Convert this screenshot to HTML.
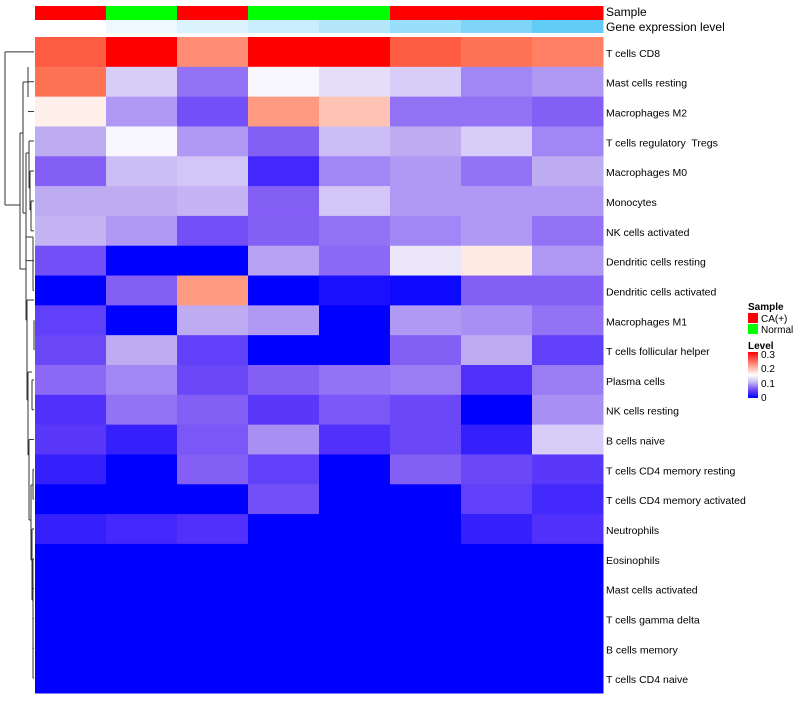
<!DOCTYPE html>
<html><head><meta charset="utf-8"><style>
body{margin:0;background:#fff;font-family:"Liberation Sans",sans-serif}
svg text{font-family:"Liberation Sans",sans-serif;white-space:pre}
</style></head><body>
<svg id="chart" width="800" height="700">
<g id="dend" stroke="#333" stroke-width="1" fill="none"></g>
<g id="cells"></g>
<g id="annot"></g>
<g id="labels"></g>
<text x="606" y="16" font-size="12">Sample</text>
<text x="606" y="31" font-size="12">Gene expression level</text>
<g>
<text x="748" y="310" font-size="10" font-weight="bold">Sample</text>
<rect x="748" y="313" width="10" height="10" fill="#ff0000"/>
<text x="761" y="322" font-size="10">CA(+)</text>
<rect x="748" y="324" width="10" height="10" fill="#00ff00"/>
<text x="761" y="333" font-size="10">Normal</text>
<text x="748" y="349" font-size="10" font-weight="bold">Level</text>
<defs><linearGradient id="lg" x1="0" y1="1" x2="0" y2="0">
<stop offset="0" stop-color="#0000ff"/><stop offset="0.2" stop-color="#7a55f5"/><stop offset="0.35" stop-color="#c8bdf2"/><stop offset="0.5" stop-color="#ffffff"/><stop offset="0.7" stop-color="#ffa090"/><stop offset="1" stop-color="#ff0000"/></linearGradient></defs>
<rect x="748" y="352" width="10" height="46" fill="url(#lg)"/>
<text x="761" y="358" font-size="10">0.3</text>
<text x="761" y="372" font-size="10">0.2</text>
<text x="761" y="387" font-size="10">0.1</text>
<text x="761" y="401" font-size="10">0</text>
</g>
</svg>
<script>
const rowNames=["T cells CD8","Mast cells resting","Macrophages M2","T cells regulatory  Tregs","Macrophages M0","Monocytes","NK cells activated","Dendritic cells resting","Dendritic cells activated","Macrophages M1","T cells follicular helper","Plasma cells","NK cells resting","B cells naive","T cells CD4 memory resting","T cells CD4 memory activated","Neutrophils","Eosinophils","Mast cells activated","T cells gamma delta","B cells memory","T cells CD4 naive"];
const sampleGroups=["CA","Normal","CA","Normal","Normal","CA","CA","CA"];
const geneLevel=[0,0.1,0.2,0.3,0.4,0.55,0.7,0.85];
const v0=[0.26,0.30,0.23,0.30,0.30,0.26,0.25,0.24];
const v1=[0.25,0.12,0.07,0.145,0.13,0.12,0.08,0.09];
const v2=[0.16,0.09,0.05,0.22,0.19,0.07,0.07,0.06];
const v3=[0.10,0.145,0.09,0.06,0.11,0.10,0.12,0.08];
const v4=[0.06,0.11,0.115,0.025,0.08,0.09,0.07,0.10];
const v5=[0.10,0.10,0.105,0.06,0.115,0.09,0.09,0.09];
const v6=[0.105,0.09,0.05,0.06,0.07,0.08,0.09,0.07];
const v7=[0.05,0,0,0.095,0.065,0.135,0.165,0.09];
const v8=[0,0.06,0.22,0,0.01,0.005,0.06,0.06];
const v9=[0.04,0,0.10,0.09,0,0.09,0.085,0.07];
const v10=[0.045,0.10,0.04,0,0,0.06,0.10,0.04];
const v11=[0.065,0.08,0.045,0.06,0.07,0.075,0.03,0.075];
const v12=[0.03,0.07,0.06,0.035,0.055,0.045,0,0.085];
const v13=[0.035,0.02,0.055,0.085,0.03,0.045,0.02,0.12];
const v14=[0.02,0,0.06,0.04,0,0.06,0.045,0.035];
const v15=[0,0,0,0.05,0,0,0.04,0.025];
const v16=[0.02,0.025,0.03,0,0,0,0.02,0.03];
const v17=[0,0,0,0,0,0,0,0];
const v18=[0,0,0,0,0,0,0,0];
const v19=[0,0,0,0,0,0,0,0];
const v20=[0,0,0,0,0,0,0,0];
const v21=[0,0,0,0,0,0,0,0];
const values=[v0,v1,v2,v3,v4,v5,v6,v7,v8,v9,v10,v11,v12,v13,v14,v15,v16,v17,v18,v19,v20,v21];

const NS="http://www.w3.org/2000/svg";
const X0=35,X1=603,Y0=37,Y1=693;
const cw=(X1-X0)/8, rh=(Y1-Y0)/rowNames.length;
const xPos=i=>X0+i*cw, yPos=i=>Y0+i*rh;
const stops=[[0,[0,0,255]],[0.03,[80,48,250]],[0.06,[132,95,246]],[0.1,[190,172,243]],[0.15,[255,255,255]],[0.2,[255,180,160]],[0.25,[255,115,85]],[0.3,[255,0,0]]];
function col(v){v=Math.max(0,Math.min(0.3,v));for(let i=1;i<stops.length;i++){if(v<=stops[i][0]){const a=stops[i-1],b=stops[i];const t=(v-a[0])/(b[0]-a[0]);const c=a[1].map((x,k)=>Math.round(x+(b[1][k]-x)*t));return `rgb(${c})`;}}return "rgb(255,0,0)";}
function gcol(t){const a=[255,255,255],b=[70,195,245];return `rgb(${a.map((x,k)=>Math.round(x+(b[k]-x)*t))})`;}
const cells=document.getElementById('cells');
values.forEach((row,r)=>row.forEach((v,c)=>{
 const e=document.createElementNS(NS,'rect');
 e.setAttribute('x',xPos(c));e.setAttribute('y',yPos(r));e.setAttribute('width',cw+0.5);e.setAttribute('height',rh+0.5);e.setAttribute('fill',col(v));
 
 
 cells.appendChild(e);
}));
const annot=document.getElementById('annot');
sampleGroups.forEach((g,c)=>{
 const e=document.createElementNS(NS,'rect');
 e.setAttribute('x',xPos(c));e.setAttribute('y',6);e.setAttribute('width',cw+0.5);e.setAttribute('height',14);e.setAttribute('fill',g==="CA"?"#ff0000":"#00ff00");
 
 
 annot.appendChild(e);
});
geneLevel.forEach((t,c)=>{
 const e=document.createElementNS(NS,'rect');
 e.setAttribute('x',xPos(c));e.setAttribute('y',20);e.setAttribute('width',cw+0.5);e.setAttribute('height',13);e.setAttribute('fill',gcol(t));
 
 
 annot.appendChild(e);
});
const labels=document.getElementById('labels');
rowNames.forEach((n,r)=>{
 const e=document.createElementNS(NS,'text');
 e.setAttribute('x',606);e.setAttribute('y',yPos(r)+rh/2+5);e.setAttribute('font-size','10.5');e.textContent=n;
 
 
 labels.appendChild(e);
});
const yc=i=>yPos(i)+rh/2;
const segs=[
[5,yc(0),5,205],[5,yc(0),34,yc(0)],[5,205,20,205],
[20,133,20,269],[20,133,23,133],[23,82,23,213],[23,82,28,82],[28,67,28,97],[28,yc(1),34,yc(1)],[28,yc(2),34,yc(2)],
[23,213,26,213],[26,153,26,213],[26,153,29,153],[29,141,29,188],[29,141,34,141],[29,188,30,188],[30,171,30,210],[30,171,34,171],[30,210,31,210],[31,yc(5),31,yc(6)],[31,yc(5),34,yc(5)],[31,yc(6),34,yc(6)],[26,yc(7),34,yc(7)],[26,213,26,yc(7)],
[20,269,26,269],[26,237,26,320],[26,237,33,237],[33,237,33,yc(8)],[33,yc(8),34,yc(8)],
[26,320,27,320],[27,300,27,400],[27,300,34,300],[34,yc(9),34,yc(10)],[27,400,28,400],[28,372,28,455],[28,372,32,372],[32,yc(11),32,yc(12)],[32,yc(11),34,yc(11)],[32,yc(12),34,yc(12)],
[28,455,29,455],[29,yc(13),29,520],[29,yc(13),34,yc(13)],[29,520,31,520],[31,485,31,560],[31,485,33,485],[33,yc(14),33,yc(15)],[33,yc(14),34,yc(14)],[33,yc(15),34,yc(15)],
[31,560,32,560],[32,yc(16),32,600],[32,yc(16),34,yc(16)],[32,600,33,600],[33,yc(17),33,yc(21)]
];
for(let i=17;i<=21;i++)segs.push([33,yc(i),34,yc(i)]);
const dend=document.getElementById('dend');
segs.forEach(s=>{const l=document.createElementNS(NS,'line');l.setAttribute('x1',s[0]);l.setAttribute('y1',s[1]);l.setAttribute('x2',s[2]);l.setAttribute('y2',s[3]);dend.appendChild(l);});
</script>
</body></html>
